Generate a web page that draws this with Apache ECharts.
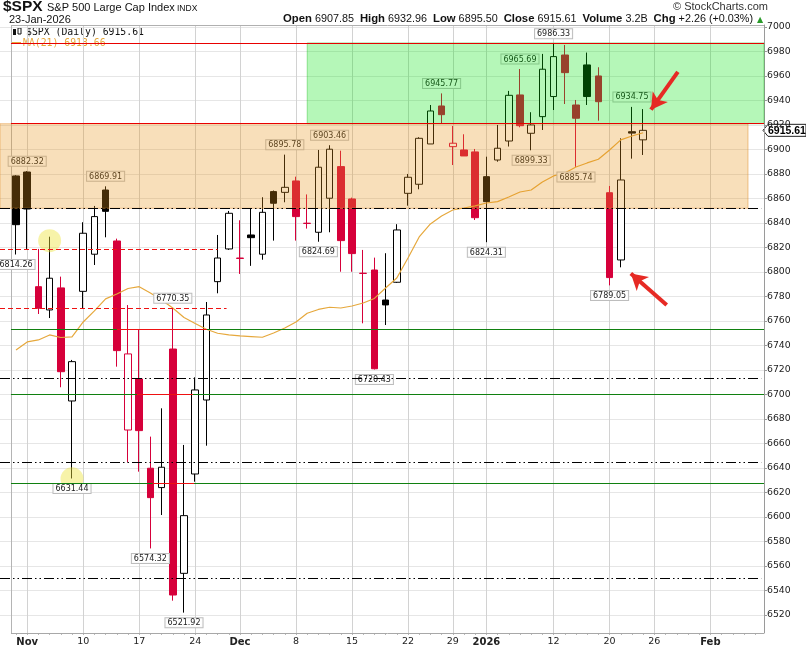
<!DOCTYPE html>
<html><head><meta charset="utf-8">
<script src="https://cdn.jsdelivr.net/npm/echarts@6/dist/echarts.min.js"></script>
<style>html,body{margin:0;padding:0;background:#fff}#c{width:806px;height:649px}</style>
</head><body><div id="c"></div>
<script>
// ---------- DATA ----------
const tradingDates = ['2025-10-31','2025-11-03','2025-11-04','2025-11-05','2025-11-06','2025-11-07','2025-11-10','2025-11-11','2025-11-12','2025-11-13','2025-11-14','2025-11-17','2025-11-18','2025-11-19','2025-11-20','2025-11-21','2025-11-24','2025-11-25','2025-11-26','2025-11-28','2025-12-01','2025-12-02','2025-12-03','2025-12-04','2025-12-05','2025-12-08','2025-12-09','2025-12-10','2025-12-11','2025-12-12','2025-12-15','2025-12-16','2025-12-17','2025-12-18','2025-12-19','2025-12-22','2025-12-23','2025-12-24','2025-12-26','2025-12-29','2025-12-30','2025-12-31','2026-01-02','2026-01-05','2026-01-06','2026-01-07','2026-01-08','2026-01-09','2026-01-12','2026-01-13','2026-01-14','2026-01-15','2026-01-16','2026-01-20','2026-01-21','2026-01-22','2026-01-23'];
const futureDates = ['2026-01-26','2026-01-27','2026-01-28','2026-01-29','2026-01-30','2026-02-02','2026-02-03','2026-02-04','2026-02-05','2026-02-06'];

const openPx  = [6878.4,6881.6,6788,6769,6787,6694.7,6784.2,6814.5,6866.9,6825.3,6671,6712.7,6639.8,6624,6737.1,6554,6635.1,6695.5,6792.1,6818.8,6811,6830.2,6814.5,6865.6,6865,6874.3,6839.6,6832.4,6860.2,6886,6859.6,6798.8,6801.6,6777.1,6791.6,6864.2,6871.6,6904.5,6935.5,6902.3,6899.6,6898,6877.8,6891.4,6906.9,6944.5,6913.2,6926.8,6943.2,6977.1,6936.3,6969,6960,6864.7,6809.8,6914.5,6907.85];
const closePx = [6838.6,6851.4,6770.4,6794.9,6718.6,6726.8,6831.6,6845.2,6849.5,6735.8,6733.1,6670.5,6615.8,6640.6,6536.3,6601.1,6703.7,6764.9,6811.4,6847.9,6811.4,6828,6848.7,6856.1,6869.1,6845.2,6839.8,6885.5,6900.2,6825.6,6815,6799,6721,6773.1,6834.3,6877.3,6909.1,6931.4,6928.4,6905.1,6894.7,6844.3,6857.4,6901,6944.2,6919.4,6920,6965.5,6975.8,6962.7,6925.5,6943.2,6939,6795.4,6875.1,6913.35,6915.61];
const lowPx   = [6814.26,6818.8,6765.7,6762.4,6705.9,6631.44,6769.8,6805.7,6828.3,6722.7,6644.7,6637,6574.32,6601.6,6531.7,6521.92,6628.8,6658.2,6782.6,6818,6798.4,6805,6810,6825.6,6856.9,6825.6,6835.4,6824.69,6832.4,6800.2,6800.2,6758.1,6720.43,6756.7,6791,6854.1,6867.5,6904.5,6921.4,6887.3,6894.7,6842.4,6824.31,6890,6902.4,6918.1,6899.33,6915.9,6932.2,6937.1,6885.74,6936.3,6923.5,6789.05,6803.8,6892.5,6895.5];
const highPx  = [6879,6882.32,6818.8,6828.8,6796.2,6728.2,6840.6,6853.9,6869.91,6827.2,6773,6753.3,6665.6,6688.7,6770.35,6658.8,6714,6775.5,6830.2,6849.8,6842.2,6851.4,6861,6866.5,6895.78,6877.8,6863.3,6899.6,6903.46,6899,6860.7,6818,6811.7,6815.3,6839,6880,6910,6936.3,6945.77,6919.2,6912.4,6900.4,6894.1,6920,6947.8,6965.69,6930.4,6978,6986.33,6985.3,6940.4,6979.1,6967.1,6870.2,6909.1,6934.75,6932.96];
const ma21    = [6736.3,6742.9,6744.5,6748.6,6746.5,6747,6759.2,6768.2,6778,6782,6786.5,6788,6782.9,6777.1,6770.6,6762.9,6758,6753.2,6750,6748.6,6747.8,6747.3,6746.7,6750.2,6754.3,6759.2,6766.3,6769.4,6771.2,6770.6,6772.2,6774.7,6778.4,6786.9,6795.1,6811.4,6828.6,6839.2,6845.7,6850.6,6852.2,6853.9,6856.3,6857.4,6861.2,6865.3,6866.9,6873.5,6878.4,6880.8,6885.7,6889,6892,6899.6,6907.8,6911,6913.66];

const xLabelDates = ['2025-11-03','2025-11-10','2025-11-17','2025-11-24','2025-12-01','2025-12-08','2025-12-15','2025-12-22','2025-12-29','2026-01-02','2026-01-12','2026-01-20','2026-01-26','2026-02-02'];
const xLabelTexts = ['Nov','10','17','24','Dec','8','15','22','29','2026','12','20','26','Feb'];
const xLabelBold  = ['Nov','Dec','2026','Feb'];
const yTickValues = [6520,6540,6560,6580,6600,6620,6640,6660,6680,6700,6720,6740,6760,6780,6800,6820,6840,6860,6880,6900,6920,6940,6960,6980,7000];

const highLabels = [['2025-11-03',6882.32],['2025-11-12',6869.91],['2025-11-20',6770.35],['2025-12-05',6895.78],['2025-12-11',6903.46],['2025-12-26',6945.77],['2026-01-07',6965.69],['2026-01-12',6986.33],['2026-01-22',6934.75]];
const lowLabels  = [['2025-10-31',6814.26],['2025-11-07',6631.44],['2025-11-18',6574.32],['2025-11-21',6521.92],['2025-12-10',6824.69],['2025-12-17',6720.43],['2026-01-02',6824.31],['2026-01-08',6899.33],['2026-01-14',6885.74],['2026-01-20',6789.05]];
const highlightCircles = [['2025-11-05',6825.5],['2025-11-07',6631.2]];

// annotation levels (price) and extents (in trading-day units)
const X_MIN = -1.43, X_MAX = 66.79, FRAME_X = -0.45;
const Y_MIN = 6505.3, Y_MAX = 7001.6;
const orangeZone = {x: [X_MIN, 65.36], y: [6852, 6921]};
const greenZone  = {x: [26, X_MAX], y: [6921, 6987]};
const solidRedLevels = [6986.33, 6921];
const dashDotLevels = [6852, 6713, 6645, 6550];
const greenLevels = [6753, 6700, 6627.5];
const redDashSegments = [[X_MIN, 18, 6818.5], [X_MIN, 18.8, 6770.35]];
const redOnGreenSegments = [[9.0, 17.05, 6753], [10.8, 15.8, 6700], [12.2, 15.9, 6627.5]];
const arrows = [[[59.1, 6963.3], [56.7, 6932.5]], [[58.1, 6773.1], [54.9, 6798.8]]];

const header = {symbol:'$SPX', name:'S&P 500 Large Cap Index', exch:'INDX', date:'23-Jan-2026',
  open:'6907.85', high:'6932.96', low:'6895.50', close:'6915.61', volume:'3.2B', chg:'+2.26 (+0.03%)', ma:'6913.66'};

// ---------- BUILD ----------
const allDates = tradingDates.concat(futureDates);
const idx = d => allDates.indexOf(d);
const BLACK = '#000', RED = '#d6003a';
const candleData = tradingDates.map((d, i) => {
  const o = openPx[i], c = closePx[i];
  const prev = i === 0 ? -Infinity : closePx[i - 1];
  const col = c >= prev ? BLACK : RED;
  const fill = c > o ? '#fff' : col;
  return {value: [i, o, c, lowPx[i], highPx[i]],
          itemStyle: {color: fill, color0: fill, borderColor: col, borderColor0: col, borderColorDoji: col, borderWidth: 1}};
});
const maData = ma21.map((v, i) => [i, v]);
const xLabelIdx = xLabelDates.map(idx);
const dayTicks = allDates.map((d, i) => i);

const labelStyle = {show: true, fontSize: 8, fontFamily: 'DejaVu Sans', color: '#1a1a1a',
  backgroundColor: 'rgba(255,255,255,0.92)', borderColor: '#bdbdbd', borderWidth: 1,
  padding: [1, 2, 0, 2], formatter: p => p.value.toFixed(2)};

const mpData = highLabels.map(([d, v]) => ({coord: [idx(d), v], value: v, label: Object.assign({}, labelStyle, {position: 'top', distance: 5})}))
  .concat(lowLabels.map(([d, v]) => ({coord: [idx(d), v], value: v, label: Object.assign({}, labelStyle, {position: 'bottom', distance: 5})})));

const seg = (x1, x2, y, style) => [{coord: [x1, y], lineStyle: style}, {coord: [x2, y]}];
const vline = (x, style) => [{coord: [x, Y_MIN], lineStyle: style}, {coord: [x, Y_MAX]}];
const gridData = xLabelIdx.map(x => vline(x, {color: '#d2d2d2', width: 1, type: 'solid'}))
  .concat([vline(FRAME_X, {color: '#b4b4b4', width: 1, type: 'solid'})]);
const mlData = []
  .concat([seg(FRAME_X, X_MAX, Y_MAX, {color: '#b0b0b0', width: 1, type: 'solid'})])
  .concat(solidRedLevels.map(v => seg(FRAME_X, X_MAX, v, {color: '#e80000', width: 1.2, type: 'solid'})))
  .concat(dashDotLevels.map(v => seg(X_MIN, X_MAX - 0.25, v, {color: '#000', width: 1.2, type: [10, 3, 1.5, 3, 1.5, 3]})))
  .concat(greenLevels.map(v => seg(FRAME_X, X_MAX, v, {color: '#108010', width: 1.2, type: 'solid'})))
  .concat(redOnGreenSegments.map(s => seg(s[0], s[1], s[2], {color: '#ee1111', width: 1.2, type: 'solid'})))
  .concat(redDashSegments.map(s => seg(s[0], s[1], s[2], {color: '#ee1111', width: 1.2, type: [5, 3]})));

const chart = echarts.init(document.getElementById('c'), null, {renderer: 'canvas'});
const option = {
  animation: false,
  backgroundColor: '#fff',
  grid: {left: 0, right: 42, top: 25, bottom: 16, containLabel: false},
  xAxis: {
    type: 'value', min: X_MIN, max: X_MAX,
    axisLine: {show: false, onZero: false},
    axisTick: {show: true, length: 2, customValues: dayTicks, lineStyle: {color: '#b8b8b8'}},
    splitLine: {show: false},
    axisLabel: {customValues: xLabelIdx, margin: 4, fontFamily: 'DejaVu Sans', fontSize: 9.5, color: '#222',
      formatter: v => { const k = xLabelIdx.indexOf(Math.round(v)); if (k < 0) return ''; const t = xLabelTexts[k]; return xLabelBold.includes(t) ? '{b|' + t + '}' : t; },
      rich: {b: {fontWeight: 'bold', fontFamily: 'DejaVu Sans', fontSize: 10, color: '#222'}}}
  },
  yAxis: {
    type: 'value', position: 'right', min: Y_MIN, max: Y_MAX, scale: true,
    axisLine: {show: true, onZero: false, lineStyle: {color: '#9a9a9a'}},
    axisTick: {show: true, length: 3, customValues: yTickValues, lineStyle: {color: '#9a9a9a'}},
    splitLine: {show: true, lineStyle: {color: '#e6e6e6'}},
    axisLabel: {customValues: yTickValues, margin: 3, fontFamily: 'DejaVu Sans', fontSize: 9.3, color: '#222', formatter: v => String(v)}
  },
  series: [
    {
      type: 'candlestick', name: '$SPX', z: 2, barWidth: 7, silent: true,
      data: candleData,
      markPoint: {z: 5, symbol: 'rect', symbolSize: 1, itemStyle: {color: 'rgba(0,0,0,0)'}, silent: true, data: mpData},
      markLine: {z: 1, silent: true, symbol: 'none', label: {show: false}, emphasis: {disabled: true},
        data: gridData.concat([seg(FRAME_X, X_MAX, Y_MIN, {color: '#a8a8a8', width: 1, type: 'solid'})])}
    },
    {
      type: 'line', name: 'MA(21)', z: 3, data: maData, showSymbol: false, silent: true,
      lineStyle: {color: '#e6a83c', width: 1.2},
      markArea: {z: 10, silent: true, data: [
        [{coord: [orangeZone.x[0], orangeZone.y[0]], itemStyle: {color: 'rgba(232,148,25,0.30)', borderColor: 'rgba(225,150,60,0.55)', borderWidth: 1}},
         {coord: [orangeZone.x[1], orangeZone.y[1]]}],
        [{coord: [greenZone.x[0], greenZone.y[0]], itemStyle: {color: 'rgba(0,228,12,0.29)', borderColor: 'rgba(0,180,0,0.35)', borderWidth: 1}},
         {coord: [greenZone.x[1], greenZone.y[1]]}]
      ]},
      markLine: {z: 11, silent: true, symbol: 'none', label: {show: false}, emphasis: {disabled: true}, data: mlData}
    },
    {
      type: 'scatter', z: 3, silent: true, symbolSize: 23,
      itemStyle: {color: 'rgba(236,228,60,0.55)'},
      data: highlightCircles.map(([d, v]) => [idx(d), v]),
      markLine: {z: 12, silent: true, symbol: ['none', 'arrow'], symbolSize: [14, 16], label: {show: false},
        lineStyle: {color: '#e62a24', width: 4, type: 'solid'}, emphasis: {disabled: true},
        data: arrows.map(a => [{coord: a[0]}, {coord: a[1]}])}
    }
  ],
  graphic: [
    {type: 'text', left: 3, top: -1, style: {text: header.symbol, font: 'bold 15.5px "Liberation Sans", Arial', fill: '#111'}},
    {type: 'text', left: 47, top: 2, style: {text: header.name, font: '11px "Liberation Sans", Arial', fill: '#111'}},
    {type: 'text', left: 177, top: 4, style: {text: header.exch, font: '8.5px "Liberation Sans", Arial', fill: '#111'}},
    {type: 'text', left: 9, top: 14, style: {text: header.date, font: '11px "Liberation Sans", Arial', fill: '#111'}},
    {type: 'text', left: 673, top: 1, style: {text: '\u00A9 StockCharts.com', font: '11px "Liberation Sans", Arial', fill: '#333'}},
    {type: 'text', x: 753, y: 19, style: {
      text: '{b|Open} ' + header.open + '  {b|High} ' + header.high + '  {b|Low} ' + header.low + '  {b|Close} ' + header.close + '  {b|Volume} ' + header.volume + '  {b|Chg} ' + header.chg,
      align: 'right', verticalAlign: 'middle', font: '10.8px "Liberation Sans", Arial', fill: '#111',
      rich: {b: {fontWeight: 'bold', fontSize: 11.3, fontFamily: 'Liberation Sans', fill: '#111'}}}},
    {type: 'text', x: 757, y: 20, style: {text: '\u25B2', font: '8px "DejaVu Sans"', fill: '#2a9a2a', verticalAlign: 'middle'}},
    // legend
    {type: 'rect', shape: {x: 13, y: 29, width: 3, height: 6}, style: {fill: '#111'}},
    {type: 'rect', shape: {x: 18, y: 28, width: 3, height: 6}, style: {fill: '#fff', stroke: '#111', lineWidth: 1}},
    {type: 'text', x: 26, y: 32, style: {text: header.symbol + ' (Daily) ' + header.close, font: '9.8px "DejaVu Sans Mono"', fill: '#111', verticalAlign: 'middle'}},
    {type: 'line', shape: {x1: 11, y1: 43, x2: 21, y2: 43}, style: {stroke: '#e6a83c', lineWidth: 2}},
    {type: 'text', x: 23, y: 43, style: {text: 'MA(21) ' + header.ma, font: '9.8px "DejaVu Sans Mono"', fill: '#e6a83c', verticalAlign: 'middle'}}
  ]
};
chart.setOption(option);

// last price tag on the right axis
const lastClose = closePx[closePx.length - 1];
const py = chart.convertToPixel({yAxisIndex: 0}, lastClose);
const pyMa = chart.convertToPixel({yAxisIndex: 0}, ma21[ma21.length - 1]);
const ax = chart.convertToPixel({xAxisIndex: 0}, X_MAX);
chart.setOption({graphic: option.graphic.concat([
  {type: 'line', shape: {x1: ax, y1: pyMa, x2: ax + 6, y2: pyMa}, style: {stroke: '#e6a83c', lineWidth: 1.5}},
  {type: 'polygon', shape: {points: [[ax - 1, py], [ax + 4, py - 6], [806, py - 6], [806, py + 6], [ax + 4, py + 6]]}, style: {fill: '#fff', stroke: '#222', lineWidth: 1}},
  {type: 'text', x: ax + 4, y: py + 0.5, style: {text: lastClose.toFixed(2), font: 'bold 10.5px "Liberation Sans", Arial', fill: '#000', verticalAlign: 'middle'}}
])});
</script>
</body></html>
